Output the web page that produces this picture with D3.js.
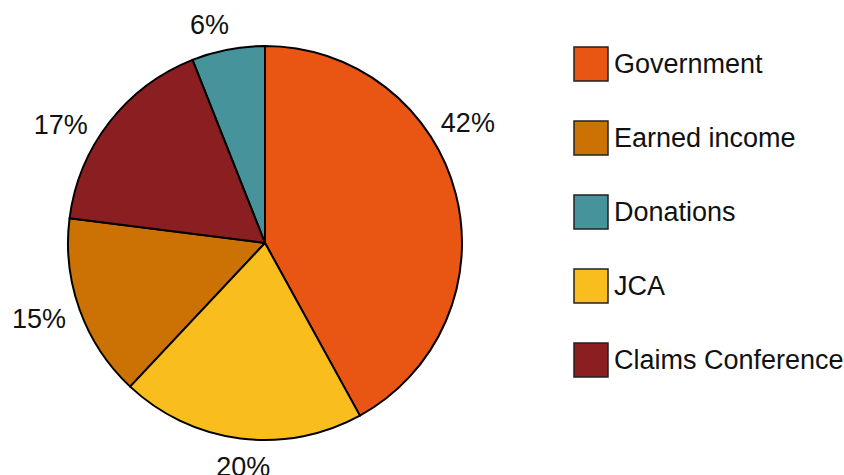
<!DOCTYPE html>
<html>
<head>
<meta charset="utf-8">
<script src="https://cdn.jsdelivr.net/npm/d3@7"></script>
<style>
  body { margin: 0; background: #fff; }
  text { font-family: "Liberation Sans", Arial, Helvetica, sans-serif; fill: #111; }
</style>
</head>
<body>
<div id="chart"></div>
<script>
// data (legend order)
var categories = ["Government", "Earned income", "Donations", "JCA", "Claims Conference"];
var values = [42, 15, 6, 20, 17];
var colors = ["#E95513", "#CC7104", "#46939B", "#FABD1E", "#8A1E20"];
// order of slices clockwise from 12 o'clock
var sliceOrder = ["Government", "JCA", "Earned income", "Claims Conference", "Donations"];

var width = 844, height = 475;
var cx = 265, cy = 243, radius = 197;

var svg = d3.select("#chart")
  .append("svg")
  .attr("width", width)
  .attr("height", height);

var data = categories.map(function(c, i) {
  return {name: c, value: values[i], color: colors[i]};
});

var pie = d3.pie()
  .value(function(d) { return d.value; })
  .sort(function(a, b) { return sliceOrder.indexOf(a.name) - sliceOrder.indexOf(b.name); });

var arcs = pie(data);

var arc = d3.arc().innerRadius(0).outerRadius(radius);

var g = svg.append("g")
  .attr("transform", "translate(" + cx + "," + cy + ")");

g.selectAll("path")
  .data(arcs)
  .enter().append("path")
  .attr("d", arc)
  .attr("fill", function(d) { return d.data.color; })
  .attr("stroke", "#000")
  .attr("stroke-width", 2)
  .attr("stroke-linejoin", "round");

// percentage labels outside the pie (small angle nudges, in degrees)
var labelNudge = {"Government": -18, "Claims Conference": -6, "Donations": -3, "JCA": -2};
var labelR = radius + 21;
var fs = 27;

g.selectAll(".pct")
  .data(arcs)
  .enter().append("text")
  .attr("class", "pct")
  .attr("font-size", fs)
  .attr("text-anchor", "middle")
  .attr("dominant-baseline", "central")
  .attr("transform", function(d) {
    var a = (d.startAngle + d.endAngle) / 2 + (labelNudge[d.data.name] || 0) * Math.PI / 180;
    var s = Math.sin(a), c = -Math.cos(a);
    var w = (String(d.data.value).length + 1) * fs * 0.55;
    var x = s * (labelR + w / 2);
    var y = c * (labelR + fs * 0.25);
    return "translate(" + x + "," + y + ")";
  })
  .text(function(d) { return d.data.value + "%"; });

// legend
var legend = svg.append("g")
  .attr("transform", "translate(574,47)");

var item = legend.selectAll(".item")
  .data(data)
  .enter().append("g")
  .attr("class", "item")
  .attr("transform", function(d, i) { return "translate(0," + (i * 74) + ")"; });

item.append("rect")
  .attr("width", 34)
  .attr("height", 34)
  .attr("fill", function(d) { return d.color; })
  .attr("stroke", "#222")
  .attr("stroke-width", 1.5);

item.append("text")
  .attr("x", 40)
  .attr("y", 17)
  .attr("dominant-baseline", "central")
  .attr("font-size", fs)
  .text(function(d) { return d.name; });
</script>
</body>
</html>
